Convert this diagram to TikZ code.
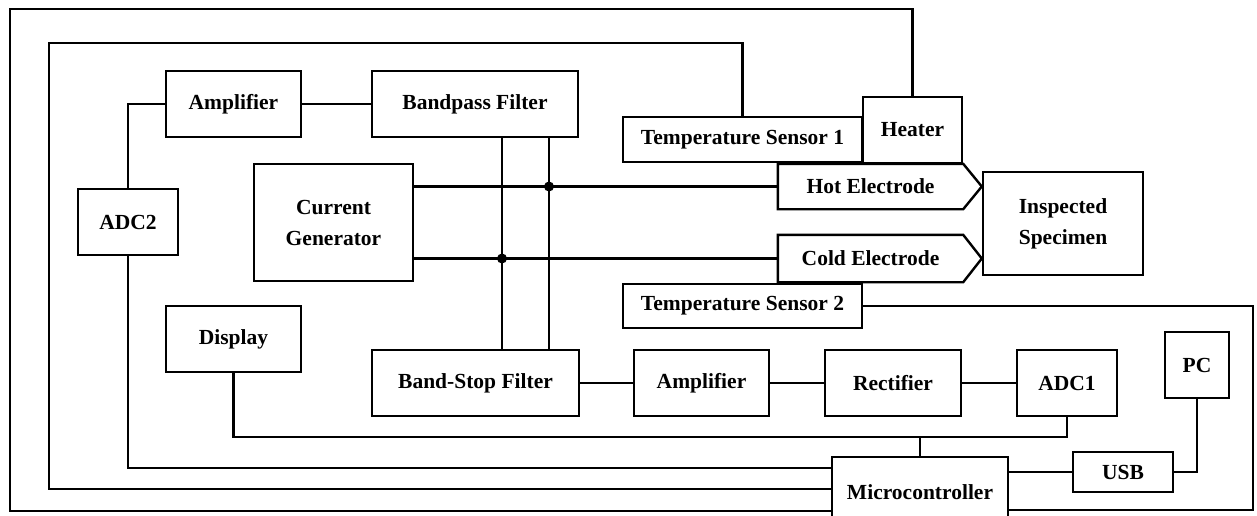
\documentclass[tikz,border=0pt]{standalone}
\usepackage{fontspec}
\setmainfont{Liberation Serif}
\begin{document}
\begin{tikzpicture}[x=1pt,y=-1pt,
  blk/.style={draw,line width=2.4pt,inner sep=0pt,align=center,
    font=\fontsize{21.5}{31}\selectfont\bfseries},
  ln/.style={draw,line width=2.4pt},
  dot/.style={circle,fill=black,inner sep=0pt,minimum size=10pt}]
\useasboundingbox (0,0) rectangle (1257,515);
\clip (0,0) rectangle (1257,515);
% boxes
\node[blk,minimum width=135,minimum height=66] (AMP1) at (233.5,104) {Amplifier};
\node[blk,minimum width=206,minimum height=66] (BP) at (475,104) {Bandpass Filter};
\node[blk,minimum width=100,minimum height=66] (ADC2) at (128,222) {ADC2};
\node[blk,minimum width=159,minimum height=117] (CG) at (333.5,222.5) {Current\\Generator};
\node[blk,minimum width=135,minimum height=66] (DSP) at (233.5,339) {Display};
\node[blk,minimum width=207,minimum height=66] (BS) at (475.5,383) {Band-Stop Filter};
\node[blk,minimum width=135,minimum height=66] (AMP2) at (701.5,383) {Amplifier};
\node[blk,minimum width=136,minimum height=66] (RECT) at (893,383) {Rectifier};
\node[blk,minimum width=100,minimum height=66] (ADC1) at (1067,383) {ADC1};
\node[blk,minimum width=64,minimum height=66] (PC) at (1197,365) {PC};
\node[blk,minimum width=100,minimum height=40] (USB) at (1123,472) {USB};
\node[blk,minimum width=176,minimum height=70] (MC) at (920,492) {Microcontroller};
\node[blk,minimum width=239,minimum height=45] (TS1) at (742.5,139.5) {Temperature Sensor 1};
\node[blk,minimum width=99,minimum height=66] (HT) at (912.5,130) {Heater};
\node[blk,minimum width=239,minimum height=44] (TS2) at (742.5,306) {Temperature Sensor 2};
\node[blk,minimum width=160,minimum height=103] (IS) at (1063,223.5) {Inspected\\Specimen};
% electrodes (pentagon arrows)
\node[blk,draw=none,minimum width=183,minimum height=43] (HE) at (870.5,186.5) {Hot Electrode};
\node[blk,draw=none,minimum width=183,minimum height=45] (CE) at (870.5,258.5) {Cold Electrode};
\draw[ln,line join=miter] (HE.north west) -- (HE.north east) -- (HE.east -| IS.west) -- (HE.south east) -- (HE.south west) -- cycle;
\draw[ln,line join=miter] (CE.north west) -- (CE.north east) -- (CE.east -| IS.west) -- (CE.south east) -- (CE.south west) -- cycle;
% coordinates for free corners
\coordinate (f1tl) at (10,9);
\coordinate (f1bl) at (10,511);
\coordinate (f2tl) at (49,43);
\coordinate (f2bl) at (49,489);
\coordinate (a2bl) at (128,468);
\coordinate (bus) at (0,437);
\coordinate (rr) at (1253,510);
\coordinate (v1) at (502,0);
\coordinate (v2) at (549,0);
% connectors
\draw[ln] (AMP1.east) -- (BP.west);
\draw[ln] (ADC2.north) |- (AMP1.west);
\draw[ln] (ADC2.south) -- (a2bl) -- (a2bl -| MC.west);
\draw[ln] (HT.north) |- (f1tl) -- (f1bl) -- (f1bl -| MC.west);
\draw[ln] (TS1.north) |- (f2tl) -- (f2bl) -- (f2bl -| MC.west);
\draw[ln] (v1 |- BP.south) -- (v1 |- BS.north);
\draw[ln] (v2 |- BP.south) -- (v2 |- BS.north);
\draw[ln] (CG.east |- HE.west) -- (HE.west);
\draw[ln] (CG.east |- CE.west) -- (CE.west);
\node[dot] (d1) at (v2 |- HE.west) {};
\node[dot] (d2) at (v1 |- CE.west) {};
\draw[ln] (BS.east) -- (AMP2.west);
\draw[ln] (AMP2.east) -- (RECT.west);
\draw[ln] (RECT.east) -- (ADC1.west);
\draw[ln] (DSP.south) |- (ADC1.south |- bus) -- (ADC1.south);
\draw[ln] (MC.north) -- (MC.north |- bus);
\draw[ln] (MC.east |- USB.west) -- (USB.west);
\draw[ln] (USB.east) -| (PC.south);
\draw[ln] (TS2.east) -| (rr) -- (rr -| MC.east);
\end{tikzpicture}
\end{document}
